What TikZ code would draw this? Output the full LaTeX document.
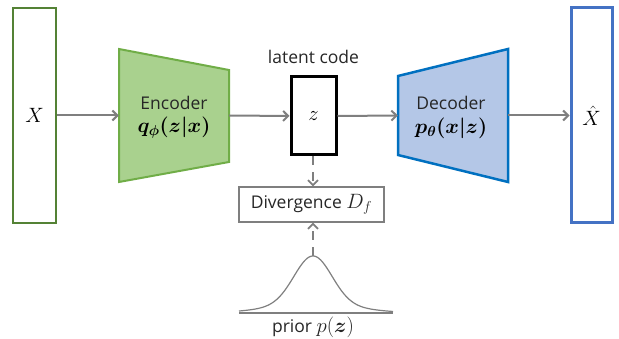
\documentclass[tikz,border=0pt]{standalone}
\usepackage{amsmath}
\usepackage{fontspec}
\setsansfont{Open Sans}
\usetikzlibrary{arrows.meta}

\definecolor{arrowgray}{HTML}{7F7F7F}
\definecolor{indark}{HTML}{548235}
\definecolor{encfill}{HTML}{A9D18E}
\definecolor{encline}{HTML}{70AD47}
\definecolor{decfill}{HTML}{B4C7E7}
\definecolor{decline}{HTML}{0070C0}
\definecolor{outline}{HTML}{4472C4}

\tikzset{
  lbl/.style={font=\sffamily\fontsize{17.5}{20}\selectfont, inner sep=0pt, text=black!85},
  mth/.style={font=\fontsize{21}{24}\selectfont, inner sep=0pt},
  flow/.style={draw=arrowgray, line width=2pt,
    -{Straight Barb[length=5pt,width=10pt]}},
  dflow/.style={flow, line width=1.8pt, dash pattern=on 9pt off 7pt},
  frame/.style={inner sep=0pt, font=\fontsize{20}{22}\selectfont},
  block/.style={minimum width=110pt, minimum height=133pt, inner sep=0pt},
}

\begin{document}
\begin{tikzpicture}[x=1pt, y=-1pt]
\useasboundingbox (0,0) rectangle (619,339);

% input and output columns
\node[frame, draw=indark, line width=2pt, minimum width=43pt, minimum height=215pt]
  (X) at (34.5,115.5) {$X$};
\node[frame, draw=outline, line width=3pt, minimum width=41pt, minimum height=215pt]
  (Xh) at (591.5,115.5) {$\hat{X}$};

% encoder trapezoid
\node[block] (enc) at (174,115.5) {};
\draw[fill=encfill, draw=encline, line width=2pt, line join=miter]
  (119,49) -- (229,70) -- (229,162) -- (119,182) -- cycle;
\node[lbl] (enctext) at (174,103) {Encoder};
\node[mth] (encmath) at (174,128) {$\boldsymbol{q_\phi(z|x)}$};

% decoder trapezoid
\node[block] (dec) at (453,115.5) {};
\draw[fill=decfill, draw=decline, line width=2.5pt, line join=miter]
  (398,76) -- (508,49) -- (508,182) -- (398,155) -- cycle;
\node[lbl] (dectext) at (451,103) {Decoder};
\node[mth] (decmath) at (451,128) {$\boldsymbol{p_\theta(x|z)}$};

% latent code
\node[frame, draw=black, line width=3pt, minimum width=45pt, minimum height=78pt]
  (z) at (313.5,116) {$z$};
\node[lbl] (zlabel) at (313.5,57) {latent code};

% divergence
\node[lbl, draw=arrowgray, line width=1.2pt, minimum width=145pt, minimum height=35pt]
  (div) at (311.5,204.5) {Divergence {\fontsize{20}{22}\selectfont$D_f$}};

% prior density
\coordinate (peak) at (313,256);
\draw[arrowgray, line width=1.2pt] (239,313) -- (393,313);
\draw[arrowgray, line width=1.2pt, smooth]
  plot[domain=-74:80, samples=120]
  ({313+\x}, {313 - (48*exp(-(\x)*(\x)/700) + 9*exp(-(\x)*(\x)/3600))});
\node[lbl] (prior) at (313,327) {prior {\fontsize{20}{22}\selectfont$p(\boldsymbol{z})$}};

% connectors
\draw[flow] (X.east) -- (enc.west);
\draw[flow] (enc.east) -- (z.west);
\draw[flow] (z.east) -- (dec.west);
\draw[flow] (dec.east) -- (Xh.west);
\draw[dflow] (z.south -| peak) -- (peak |- div.north);
\draw[dflow] (peak) -- (peak |- div.south);
\end{tikzpicture}
\end{document}
